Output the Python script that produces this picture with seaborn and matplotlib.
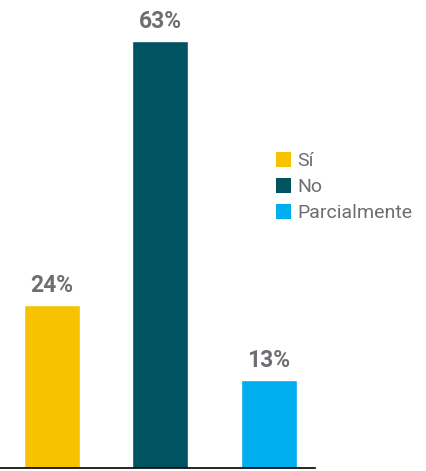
import matplotlib
matplotlib.use("Agg")
import matplotlib.pyplot as plt
import seaborn as sns
import pandas as pd
from matplotlib.patches import Patch

categories = ["Sí", "No", "Parcialmente"]
values = [24, 63, 13]
colors = ["#F7C200", "#005361", "#00AEEF"]

df = pd.DataFrame({"respuesta": categories, "porcentaje": values})

sns.set_style("white")
plt.rcParams["font.family"] = ["Roboto", "DejaVu Sans"]

W, H = 427, 471
fig = plt.figure(figsize=(W / 100, H / 100), dpi=100)
ax = fig.add_axes([0, 3 / H, 315 / W, 468 / H])

sns.barplot(data=df, x="respuesta", y="porcentaje", hue="respuesta",
            palette=colors, width=0.516, legend=False, ax=ax,
            saturation=1)

ax.set_xlim(-0.479, 2.424)
ax.set_ylim(0, 69)
for s in ["top", "right", "left"]:
    ax.spines[s].set_visible(False)
ax.spines["bottom"].set_color("black")
ax.spines["bottom"].set_linewidth(1.2)
ax.set_xticks([])
ax.set_yticks([])
ax.set_xlabel("")
ax.set_ylabel("")

for i, v in enumerate(values):
    ax.text(i, v + 1.2, f"{v}%", ha="center", va="bottom",
            fontsize=16.5, fontweight="bold", color="#6D6E71")

handles = [Patch(facecolor=c, edgecolor="none") for c in colors]
fig.legend(handles, categories, loc="upper left",
           bbox_to_anchor=(268 / W, 1 - 144 / H), frameon=False,
           fontsize=14, labelcolor="#6D6E71", handlelength=0.8,
           handleheight=0.8, handletextpad=0.3, labelspacing=0.4,
           borderaxespad=0)

fig.savefig("out.png", dpi=100)
